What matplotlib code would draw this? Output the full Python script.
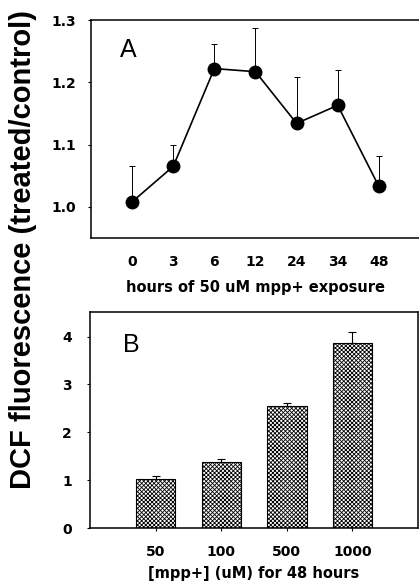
import numpy as np
import matplotlib
matplotlib.use("Agg")
import matplotlib.pyplot as plt

plt.rcParams['font.family'] = ['DejaVu Sans']
plt.rcParams['font.weight'] = 'bold'
plt.rcParams['hatch.linewidth'] = 0.6

# Panel A: time course
hours = ['0', '3', '6', '12', '24', '34', '48']
ratio = [1.008, 1.065, 1.222, 1.217, 1.134, 1.163, 1.033]
ratio_err = [0.057, 0.034, 0.039, 0.070, 0.075, 0.057, 0.048]

# Panel B: dose response
doses = ['50', '100', '500', '1000']
dose_ratio = [1.02, 1.38, 2.55, 3.87]
dose_err = [0.065, 0.055, 0.065, 0.22]

fig = plt.figure(figsize=(4.19, 5.85), dpi=100)

# ---- A ----
axA = fig.add_axes([0.2172, 0.5932, 0.785, 0.3726])
xa = np.arange(len(hours))
axA.errorbar(xa, ratio, yerr=[np.zeros(len(ratio)), ratio_err], fmt='none',
             ecolor='black', elinewidth=0.7, capsize=2, capthick=0.7)
axA.plot(xa, ratio, color='black', lw=1.2, marker='o', markersize=9,
         markerfacecolor='black', zorder=3)
axA.set_xlim(-1, 7)
axA.set_ylim(0.95, 1.3)
axA.set_xticks(xa)
axA.set_xticklabels(hours)
axA.set_yticks([1.0, 1.1, 1.2, 1.3])
axA.set_yticklabels(['1.0', '1.1', '1.2', '1.3'])
axA.tick_params(axis='x', length=0, pad=12, labelsize=10)
axA.tick_params(axis='y', length=2, pad=9, labelsize=10)
axA.set_xlabel('hours of 50 uM mpp+ exposure', fontsize=10.5, fontweight='bold', labelpad=8)
axA.text(0.088, 0.862, 'A', transform=axA.transAxes, fontsize=18,
         fontfamily='Liberation Sans', fontweight='normal', va='center', ha='left')
for s in axA.spines.values():
    s.set_linewidth(1.1)

# ---- B ----
axB = fig.add_axes([0.2148, 0.0974, 0.783, 0.3698])
xb = np.arange(len(doses))
axB.bar(xb, dose_ratio, width=0.6, facecolor='white', edgecolor='black',
        hatch='xxxxxxxx', linewidth=0.8, zorder=2)
axB.errorbar(xb, dose_ratio, yerr=[np.zeros(len(dose_ratio)), dose_err], fmt='none',
             ecolor='black', elinewidth=0.8, capsize=3, capthick=0.8, zorder=1)
axB.set_xlim(-1, 4)
axB.set_ylim(0, 4.52)
axB.set_xticks(xb)
axB.set_xticklabels(doses)
axB.set_yticks([0, 1, 2, 3, 4])
axB.tick_params(axis='x', length=2, pad=10, labelsize=10)
axB.tick_params(axis='y', length=2, pad=11, labelsize=10)
axB.set_xlabel('[mpp+] (uM) for 48 hours', fontsize=10.5, fontweight='bold', labelpad=5)
axB.text(0.1, 0.846, 'B', transform=axB.transAxes, fontsize=18,
         fontfamily='Liberation Sans', fontweight='normal', va='center', ha='left')
for s in axB.spines.values():
    s.set_linewidth(1.1)

fig.text(0.055, 0.573, 'DCF fluorescence (treated/control)', rotation=90,
         fontsize=21, fontfamily='Liberation Sans', fontweight='bold',
         ha='center', va='center')

fig.savefig('out.png', dpi=100, facecolor='white')
